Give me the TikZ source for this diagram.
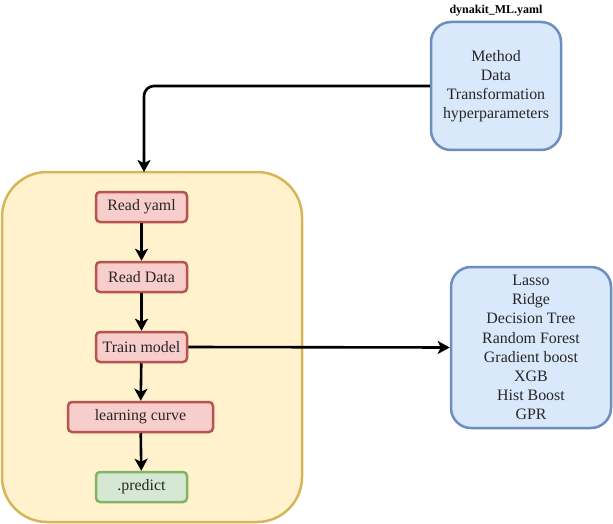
\documentclass[tikz,border=0pt]{standalone}
\usepackage{fontspec}
\setmainfont{Liberation Serif}
\usetikzlibrary{arrows.meta}
\definecolor{bluefill}{HTML}{DAE8FC}
\definecolor{bluedraw}{HTML}{6C8EBF}
\definecolor{yelfill}{HTML}{FFF2CC}
\definecolor{yeldraw}{HTML}{D6B656}
\definecolor{redfill}{HTML}{F8CECC}
\definecolor{reddraw}{HTML}{B85450}
\definecolor{grnfill}{HTML}{D5E8D4}
\definecolor{grndraw}{HTML}{82B366}
\tikzset{
  txt/.style={font=\fontsize{15.9}{19.1}\selectfont, text=black!85},
  bigbox/.style={draw=bluedraw, fill=bluefill, line width=2.5pt, rounded corners=20pt, align=center, txt, inner sep=0pt},
  stepbox/.style={draw=reddraw, fill=redfill, line width=2.5pt, rounded corners=4pt, txt, inner sep=0pt, minimum height=30pt},
  endbox/.style={draw=grndraw, fill=grnfill, line width=2.5pt, rounded corners=4pt, txt, inner sep=0pt, minimum height=30pt},
  conn/.style={line width=2.6pt, -{Stealth[length=12pt,width=13pt,inset=3pt]}},
}
\begin{document}
\begin{tikzpicture}[x=1pt,y=-1pt]
\useasboundingbox (0,0) rectangle (613,524);
% container
\node[draw=yeldraw, fill=yelfill, line width=2.5pt, rounded corners=45pt, minimum width=300pt, minimum height=350pt, inner sep=0pt] (cont) at (152,347) {};
% yaml box
\node[bigbox, minimum width=130pt, minimum height=128pt] (yaml) at (496,86) {Method\\Data\\Transformation\\hyperparameters};
\node[font=\fontsize{12}{14}\selectfont\bfseries, inner sep=0pt] (title) at (496,10.5) {dynakit\_ML.yaml};
% model box
\node[bigbox, minimum width=160pt, minimum height=161pt] (models) at (531,347.5) {Lasso\\Ridge\\Decision Tree\\Random Forest\\Gradient boost\\XGB\\Hist Boost\\GPR};
% steps
\node[stepbox, minimum width=91pt] (ryaml) at (141.5,207) {Read yaml};
\node[stepbox, minimum width=91pt] (rdata) at (141.5,277) {Read Data};
\node[stepbox, minimum width=91pt] (train) at (141.5,347) {Train model};
\node[stepbox, minimum width=145pt] (curve) at (140.5,417) {learning curve};
\node[endbox, minimum width=91pt] (pred) at (141.5,487) {.predict};
% connectors
\coordinate (entry) at (144,172);
\draw[conn, rounded corners=10pt] (yaml.west) -| (entry);
\draw[conn] (ryaml) -- (rdata);
\draw[conn] (rdata) -- (train);
\draw[conn] (train) -- (curve);
\draw[conn] (curve) -- (pred);
\draw[conn] (train.east) -- (models.west);
\end{tikzpicture}
\end{document}
